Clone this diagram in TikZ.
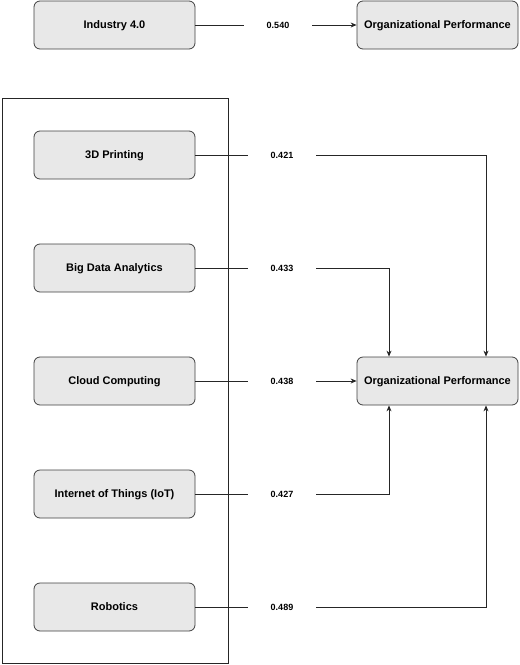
\documentclass[tikz,border=0pt]{standalone}
\usepackage{fontspec}
\setmainfont{Liberation Sans}
\usetikzlibrary{arrows.meta,positioning}

\begin{document}
\begin{tikzpicture}[x=1pt,y=-1pt,
  factor/.style={draw=black!75,fill=black!9,rounded corners=6pt,line width=0.8pt,
    minimum width=161pt,minimum height=48pt,text height=8pt,text depth=2pt,
    font=\fontsize{11}{13}\selectfont\bfseries},
  coef/.style={minimum width=68pt,inner sep=0pt,font=\fontsize{9}{11}\selectfont\bfseries},
  link/.style={line width=0.8pt,draw=black!85},
  tip/.style={link,-{Stealth[length=6pt,width=5pt]}}]
  \useasboundingbox (0,0) rectangle (520,665);
  % Overall construct
  \path (114.5,25) node[factor] (I) {Industry 4.0};
  \path (437.5,25) node[factor] (OPa) {Organizational Performance};
  \path (278,25) node[coef] (L0) {0.540};
  \draw[link] (I) -- (L0);
  \draw[tip] (L0) -- (OPa);
  % Frame around the dimensions
  \draw[line width=0.8pt,draw=black!85] (2,98) rectangle (228,663);
  % Dimensions of Industry 4.0
  \path (114.5,155) node[factor] (D1) {3D Printing};
  \path (114.5,268) node[factor] (D2) {Big Data Analytics};
  \path (114.5,381) node[factor] (D3) {Cloud Computing};
  \path (114.5,494) node[factor] (D4) {Internet of Things (IoT)};
  \path (114.5,607) node[factor] (D5) {Robotics};
  \path (437.5,381) node[factor] (OPb) {Organizational Performance};
  % Path coefficients
  \path (282,155) node[coef] (L1) {0.421};
  \path (282,268) node[coef] (L2) {0.433};
  \path (282,381) node[coef] (L3) {0.438};
  \path (282,494) node[coef] (L4) {0.427};
  \path (282,607) node[coef] (L5) {0.489};
  % Draw the paths
  \draw[link] (D1) -- (L1) (D2) -- (L2) (D3) -- (L3) (D4) -- (L4) (D5) -- (L5);
  \draw[tip] (L1) -| ([xshift=48.5pt]OPb.north);
  \draw[tip] (L2) -| ([xshift=-48.5pt]OPb.north);
  \draw[tip] (L3) -- (OPb);
  \draw[tip] (L4) -| ([xshift=-48.5pt]OPb.south);
  \draw[tip] (L5) -| ([xshift=48.5pt]OPb.south);
\end{tikzpicture}
\end{document}
